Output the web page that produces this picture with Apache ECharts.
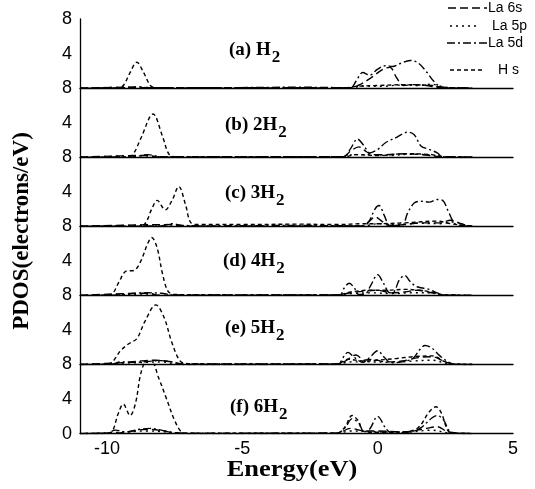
<!DOCTYPE html>
<html><head><meta charset="utf-8">
<script src="https://cdn.jsdelivr.net/npm/echarts@6/dist/echarts.min.js"></script>
<style>html,body{margin:0;padding:0;background:#fff}#c{width:535px;height:489px}</style>
</head><body><div id="c"></div>
<script>
// Energy axis tick labels and y tick labels
const xTicks = [-10, -5, 0, 5];
const yTicks = [0, 4, 8];
const seriesNames = ['La 6s', 'La 5p', 'La 5d', 'H s'];
const panelLabels = ['(a) H', '(b) 2H', '(c) 3H', '(d) 4H', '(e) 5H', '(f) 6H'];

// Panel (a) H2
const la6sA = [[-11,0],[-9,0.1],[-8.6,0.05],[-1.0,0.05],[-0.6,0.5],[-0.2,1.3],[0.2,2.2],[0.45,2.4],[0.7,1.2],[0.95,0.3],[1.3,0.4],[1.8,0.3],[2.2,0.1],[3.5,0]];
const la5pA = [[-11,0],[-9,0.1],[-8,0.05],[-1.0,0.05],[-0.5,0.25],[0.2,0.2],[0.8,0.35],[1.5,0.3],[2.0,0.45],[2.4,0.15],[2.8,0.02],[3.5,0]];
const la5dA = [[-11,0],[-9.2,0.05],[-8.9,0.15],[-8.5,0.05],[-6,0.05],[-3,0.1],[-1.0,0.05],[-0.8,0.8],[-0.55,1.8],[-0.3,1.5],[0.0,2.2],[0.3,2.6],[0.55,2.5],[0.8,2.8],[1.2,3.2],[1.5,2.9],[1.8,1.9],[2.1,0.7],[2.4,0.1],[3.5,0]];
const hsA   = [[-11,0],[-9.6,0.02],[-9.4,0.3],[-9.15,1.8],[-8.9,3.0],[-8.65,1.8],[-8.4,0.3],[-8.2,0.05],[-7,0.03],[-1.2,0.03],[-0.8,0.2],[0,0.3],[1,0.4],[2,0.3],[2.5,0.05],[3.5,0]];

// Panel (b) 2H2
const la6sB = [[-11,0],[-8.5,0.2],[-8,0],[-1.3,0.05],[-1.0,0.7],[-0.7,1.2],[-0.4,0.6],[-0.2,0.3],[0.3,0.3],[1.0,0.4],[1.6,0.3],[2.2,0.1],[3.5,0]];
const la5pB = [[-11,0],[-8.6,0.15],[-8,0],[-1.3,0.05],[-0.9,0.3],[-0.2,0.3],[0.5,0.2],[1.2,0.35],[1.8,0.3],[2.3,0.1],[3.5,0]];
const la5dB = [[-11,0],[-9,0.05],[-8.5,0.3],[-8,0.05],[-4,0.05],[-1.25,0.05],[-1.0,1.0],[-0.75,2.1],[-0.5,1.3],[-0.3,0.5],[0.0,0.9],[0.3,1.7],[0.7,2.3],[1.1,2.9],[1.35,2.6],[1.6,1.3],[1.9,0.9],[2.2,0.5],[2.4,0.05],[3.5,0]];
const hsB   = [[-11,0],[-9.3,0.02],[-9.05,0.3],[-8.75,2.2],[-8.3,5.0],[-7.95,2.4],[-7.7,0.3],[-7.4,0.05],[-1.2,0.05],[-0.8,0.3],[0,0.2],[1,0.4],[2,0.3],[2.4,0.05],[3.5,0]];

// Panel (c) 3H2
const la6sC = [[-11,0],[-7.6,0.2],[-7,0],[-0.6,0.05],[-0.3,0.6],[-0.1,1.1],[0.15,0.6],[0.4,0.1],[1.0,0.2],[1.6,0.4],[2.3,0.4],[2.7,0.7],[3.0,0.4],[3.3,0.1],[3.5,0]];
const la5pC = [[-11,0],[-7.5,0.15],[-7,0],[-0.5,0.05],[0,0.3],[0.8,0.2],[1.5,0.35],[2.3,0.3],[2.8,0.5],[3.2,0.2],[3.5,0]];
const la5dC = [[-11,0],[-8,0.05],[-7.6,0.3],[-7.2,0.1],[-6,0.05],[-3,0.1],[-0.5,0.05],[-0.3,0.7],[-0.1,2.0],[0.05,2.4],[0.25,1.2],[0.45,0.1],[0.9,0.1],[1.1,1.5],[1.35,2.7],[1.6,2.9],[1.9,2.8],[2.2,3.1],[2.4,3.0],[2.6,1.8],[2.85,0.3],[3.1,0.1],[3.5,0]];
const hsC   = [[-11,0],[-8.9,0.02],[-8.6,0.3],[-8.35,2.0],[-8.15,3.0],[-7.85,1.9],[-7.6,3.0],[-7.35,4.6],[-7.1,2.5],[-6.9,0.4],[-6.6,0.2],[-5,0.2],[-3,0.25],[-1.5,0.2],[-0.5,0.3],[0,0.3],[1,0.4],[2.2,0.6],[2.7,0.3],[3.2,0.1],[3.5,0]];

// Panel (d) 4H2
const la6sD = [[-11,0],[-8.5,0.25],[-8,0],[-1.5,0.05],[-1.0,0.3],[-0.5,0.5],[0.0,0.6],[0.5,0.3],[1.0,0.4],[1.5,0.6],[2.0,0.3],[2.4,0.05],[3.5,0]];
const la5pD = [[-11,0],[-8.5,0.15],[-8,0],[-1.5,0.05],[-1.0,0.2],[-0.2,0.3],[0.5,0.2],[1.3,0.3],[2.0,0.3],[2.4,0.1],[3.5,0]];
const la5dD = [[-11,0],[-9.5,0.05],[-9.0,0.25],[-8.5,0.3],[-8.0,0.25],[-7.5,0.05],[-5,0.05],[-1.4,0.05],[-1.25,0.8],[-1.05,1.4],[-0.85,0.8],[-0.7,0.1],[-0.45,0.2],[-0.25,1.2],[0.0,2.4],[0.2,1.5],[0.45,0.3],[0.6,0.4],[0.8,1.8],[1.0,2.3],[1.2,1.6],[1.45,1.0],[1.9,0.7],[2.2,0.3],[2.45,0.05],[3.5,0]];
const hsD   = [[-11,0],[-10,0.02],[-9.8,0.2],[-9.55,1.6],[-9.3,2.8],[-9.0,2.9],[-8.75,4.0],[-8.5,6.0],[-8.35,6.7],[-8.15,5.5],[-7.95,2.5],[-7.75,0.5],[-7.5,0.1],[-1.5,0.05],[-1.0,0.4],[-0.3,0.6],[0.3,0.6],[1.0,0.7],[1.5,0.6],[2.0,0.4],[2.4,0.05],[3.5,0]];

// Panel (e) 5H2
const la6sE = [[-11,0],[-9.5,0.2],[-8.8,0.4],[-8.2,0.5],[-7.6,0.3],[-7.2,0],[-1.5,0.05],[-1.2,0.4],[-0.8,1.1],[-0.5,0.5],[-0.2,0.6],[0.3,0.3],[0.9,0.4],[1.5,0.8],[2.0,0.9],[2.5,0.3],[2.8,0.05],[3.5,0]];
const la5pE = [[-11,0],[-9,0.2],[-8,0.3],[-7.3,0],[-1.5,0.05],[-1.0,0.3],[-0.3,0.3],[0.5,0.25],[1.3,0.4],[2.0,0.5],[2.6,0.1],[3.5,0]];
const la5dE = [[-11,0],[-9.8,0.05],[-9.5,0.3],[-9.0,0.25],[-8.5,0.35],[-8.0,0.45],[-7.6,0.3],[-7.2,0.05],[-4,0.05],[-1.45,0.05],[-1.3,0.7],[-1.1,1.4],[-0.85,0.8],[-0.55,0.25],[-0.3,0.8],[0.0,1.6],[0.25,0.8],[0.5,0.2],[0.9,0.3],[1.3,0.7],[1.55,1.7],[1.75,2.2],[2.0,1.9],[2.3,1.0],[2.6,0.3],[2.8,0.05],[3.5,0]];
const hsE   = [[-11,0],[-10,0.02],[-9.8,0.3],[-9.5,1.6],[-9.2,2.4],[-8.9,3.0],[-8.6,5.0],[-8.2,6.9],[-7.9,5.5],[-7.6,2.5],[-7.3,0.4],[-7.0,0.1],[-4,0.05],[-1.5,0.05],[-1.1,0.6],[-0.5,0.4],[0,0.5],[0.7,0.7],[1.3,0.9],[2.0,1.0],[2.5,0.3],[2.8,0.05],[3.5,0]];

// Panel (f) 6H2
const la6sF = [[-11,0],[-9.5,0.1],[-8.5,0.5],[-7.5,0.1],[-7,0],[-1.5,0.05],[-1.0,0.6],[-0.5,0.3],[0,0.3],[1.0,0.2],[1.8,0.6],[2.2,0.8],[2.6,0.2],[3.5,0]];
const la5pF = [[-11,0],[-9.8,0.1],[-8.5,0.3],[-7.5,0.1],[-7,0],[-1.5,0.05],[-1,0.3],[0,0.2],[1,0.15],[2,0.4],[2.6,0.1],[3.5,0]];
const la5dF = [[-11,0],[-10,0.05],[-9.7,0.4],[-9.3,0.2],[-8.8,0.5],[-8.4,0.6],[-8.0,0.4],[-7.5,0.1],[-7,0.05],[-1.5,0.05],[-1.2,0.7],[-0.95,1.7],[-0.7,1.2],[-0.5,0.2],[-0.3,0.5],[0.0,2.0],[0.3,0.6],[0.5,0.1],[1.2,0.2],[1.6,0.7],[2.0,1.8],[2.2,2.1],[2.45,1.5],[2.65,0.3],[2.9,0.05],[3.5,0]];
const hsF   = [[-11,0],[-10.0,0.02],[-9.8,0.3],[-9.6,2.2],[-9.4,3.4],[-9.15,2.1],[-8.95,3.5],[-8.75,7.0],[-8.55,8.3],[-8.35,8.3],[-8.1,6.5],[-7.8,4.0],[-7.5,1.5],[-7.25,0.2],[-7.0,0.05],[-1.5,0.05],[-1.2,0.8],[-0.95,2.1],[-0.7,1.4],[-0.55,0.3],[0,0.15],[1.0,0.2],[1.5,0.7],[1.9,2.5],[2.15,3.1],[2.35,2.4],[2.6,0.3],[2.8,0.05],[3.5,0]];

const panels = [
  [la6sA, la5pA, la5dA, hsA],
  [la6sB, la5pB, la5dB, hsB],
  [la6sC, la5pC, la5dC, hsC],
  [la6sD, la5pD, la5dD, hsD],
  [la6sE, la5pE, la5dE, hsE],
  [la6sF, la5pF, la5dF, hsF]
];

const dashes = [[8,4],[2,4],[8,3,2,3],[4,3]];
const top0 = 19, ph = 69.1, left = 80, right = 22;
const serif = '"Liberation Serif","Times New Roman",serif';
const sans = '"Liberation Sans",Arial,sans-serif';

const grids = [], xAxes = [], yAxes = [], series = [], graphics = [];
panels.forEach((p, i) => {
  const last = i === panels.length - 1;
  grids.push({left: left, right: right, top: top0 + ph * i, height: ph, containLabel: false});
  xAxes.push({
    type: 'value', gridIndex: i, min: -11, max: 5, splitNumber: 3,
    axisLine: {show: true, onZero: false, lineStyle: {color: '#000', width: 1.3}},
    axisTick: {show: false}, splitLine: {show: false},
    axisLabel: {show: last, color: '#000', fontSize: 18, fontFamily: sans, margin: 6,
      showMinLabel: false,
      formatter: v => (xTicks.indexOf(Math.round(v * 1000) / 1000) >= 0 ? String(v) : '')}
  });
  yAxes.push({
    type: 'value', gridIndex: i, min: yTicks[0], max: yTicks[2], interval: 4,
    axisLine: {show: true, onZero: false, lineStyle: {color: '#000', width: 1.3}},
    axisTick: {show: false}, splitLine: {show: false},
    axisLabel: {color: '#000', fontSize: 18, fontFamily: sans, margin: 8, showMinLabel: last}
  });
  p.forEach((d, k) => {
    series.push({
      name: seriesNames[k], type: 'line', xAxisIndex: i, yAxisIndex: i,
      data: d, showSymbol: false, smooth: 0.35, silent: true,
      lineStyle: {color: '#000', width: 1.4, type: dashes[k]}
    });
  });
});

// panel labels with subscript 2
const labelFont = 'bold 19px ' + serif;
const labelPos = [[229, 51], [225, 126], [225, 194], [223, 262], [225, 329], [230, 408]];
panelLabels.forEach((t, i) => {
  const [x, y] = labelPos[i];
  graphics.push({type: 'text', left: x, top: y - 10, style: {text: t, font: labelFont, fill: '#000'}, z: 10});
});

// legend
const legY = [8, 26, 43, 70];
const legX1 = [448, 450, 447, 450], legX2 = [487, 478, 487, 482], legTx = [488, 492, 488, 498];
seriesNames.forEach((n, k) => {
  graphics.push({type: 'line', shape: {x1: legX1[k], y1: legY[k], x2: legX2[k], y2: legY[k]},
    style: {stroke: '#000', lineWidth: 1.4, lineDash: dashes[k]}});
  graphics.push({type: 'text', x: legTx[k], y: legY[k], style: {text: n, font: '14px ' + sans, fill: '#000', textVerticalAlign: 'middle'}});
});

// axis titles
graphics.push({type: 'text', x: 292, y: 470, scaleX: 1.1, style: {text: 'Energy(eV)', font: 'bold 24px ' + serif, fill: '#000', textAlign: 'center', textVerticalAlign: 'middle'}});
graphics.push({type: 'text', x: 22, y: 231, rotation: Math.PI / 2, style: {text: 'PDOS(electrons/eV)', font: 'bold 23px ' + serif, fill: '#000', textAlign: 'center', textVerticalAlign: 'middle'}});

const chart = echarts.init(document.getElementById('c'), null, {renderer: 'canvas'});
chart.setOption({
  animation: false, backgroundColor: '#fff',
  grid: grids, xAxis: xAxes, yAxis: yAxes, series: series, graphic: graphics
});

// subscripts placed after measuring label widths
const extra = [];
panelLabels.forEach((t, i) => {
  const [x, y] = labelPos[i];
  const w = echarts.format.getTextRect ? echarts.format.getTextRect(t, labelFont).width : t.length * 9.5;
  extra.push({type: 'text', left: x + w + 1, top: y - 2, style: {text: '2', font: 'bold 17px ' + serif, fill: '#000'}, z: 10});
});
chart.setOption({graphic: graphics.concat(extra)});
</script></body></html>
